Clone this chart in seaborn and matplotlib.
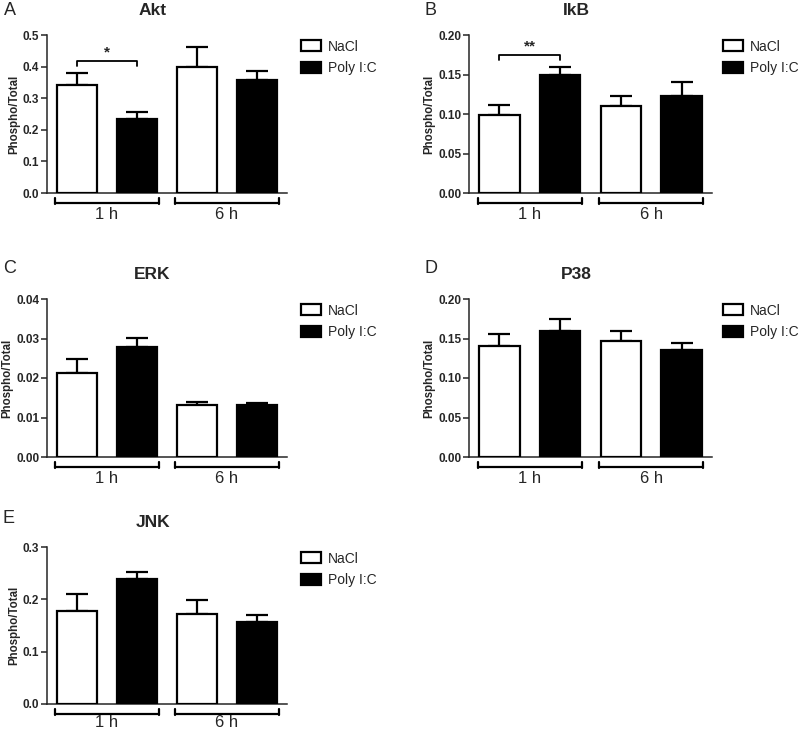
import numpy as np
import pandas as pd
import matplotlib
matplotlib.use('Agg')
import matplotlib.pyplot as plt
import seaborn as sns

# data (mean, upper SEM) order: 1h NaCl, 1h Poly, 6h NaCl, 6h Poly
times = ['1 h', '6 h']
treatments = ['NaCl', 'Poly I:C']

akt_mean = [0.341, 0.234, 0.399, 0.359]
akt_sem = [0.040, 0.021, 0.062, 0.028]
ikb_mean = [0.099, 0.149, 0.110, 0.123]
ikb_sem = [0.012, 0.010, 0.013, 0.018]
erk_mean = [0.0212, 0.0278, 0.0131, 0.0131]
erk_sem = [0.0036, 0.0023, 0.0008, 0.0005]
p38_mean = [0.141, 0.160, 0.147, 0.136]
p38_sem = [0.015, 0.015, 0.013, 0.008]
jnk_mean = [0.177, 0.239, 0.172, 0.156]
jnk_sem = [0.034, 0.014, 0.026, 0.014]

panels = [
    # letter, title, mean, sem, yticks, fmt, sig
    ('A', 'Akt', akt_mean, akt_sem, [0, 0.1, 0.2, 0.3, 0.4, 0.5], '%.1f', ('*', 0.419, 0.016)),
    ('B', 'IkB', ikb_mean, ikb_sem, [0, 0.05, 0.10, 0.15, 0.20], '%.2f', ('**', 0.175, 0.007)),
    ('C', 'ERK', erk_mean, erk_sem, [0, 0.01, 0.02, 0.03, 0.04], '%.2f', None),
    ('D', 'P38', p38_mean, p38_sem, [0, 0.05, 0.10, 0.15, 0.20], '%.2f', None),
    ('E', 'JNK', jnk_mean, jnk_sem, [0, 0.1, 0.2, 0.3], '%.1f', None),
]

sns.set_style('ticks')
plt.rcParams['font.family'] = ['Liberation Sans', 'DejaVu Sans']

W, H = 800, 730
fig = plt.figure(figsize=(8, 7.3), dpi=100)

# axes boxes in pixels: left, top, right, bottom
boxes = [(47, 35, 287, 193), (469, 35, 712, 193),
         (47, 299, 287, 457), (469, 299, 712, 457),
         (47, 547, 287, 704)]
letter_pos = [(4, 15), (424, 15), (3, 273), (424, 273), (3, 523)]

for (letter, title, mean, sem, yticks, fmt, sig), box, lp in zip(panels, boxes, letter_pos):
    l, t, r, b = box
    ax = fig.add_axes([l / W, 1 - b / H, (r - l) / W, (b - t) / H])
    df = pd.DataFrame({
        'time': np.repeat(times, 2),
        'treat': treatments * 2,
        'value': mean,
        'sem': sem,
    })
    sns.barplot(data=df, x='time', y='value', hue='treat', hue_order=treatments,
                palette={'NaCl': 'white', 'Poly I:C': 'black'}, edgecolor='black',
                linewidth=1.6, width=1.0, gap=0.33, errorbar=None, ax=ax, zorder=3)
    bar_conts = list(ax.containers)

    # upper error bars only, like GraphPad
    for ci, cont in enumerate(bar_conts):
        sub = df[df['treat'] == treatments[ci]]
        for bar, s in zip(cont, sub['sem']):
            xc = bar.get_x() + bar.get_width() / 2
            ax.errorbar(xc, bar.get_height(), yerr=[[0], [s]], fmt='none',
                        ecolor='black', elinewidth=1.6, capsize=8, capthick=1.6, zorder=2)

    ax.set_xlim(-0.5, 1.5)
    ax.set_ylim(0, yticks[-1])
    ax.set_yticks(yticks)
    ax.yaxis.set_major_formatter(matplotlib.ticker.FormatStrFormatter(fmt))
    ax.set_xticks([])
    ax.set_xlabel('')
    ax.set_ylabel('Phospho/Total', fontsize=8.3, fontweight='bold', labelpad=2)
    for lab in ax.get_yticklabels():
        lab.set_fontweight('bold')
    ax.tick_params(axis='y', labelsize=8.5, width=1.1, length=4, pad=1.5)
    sns.despine(ax=ax)
    ax.spines['left'].set_linewidth(1.1)
    ax.spines['bottom'].set_linewidth(1.1)

    # group brackets under the axis
    tr = ax.get_xaxis_transform()
    lab_y = -0.118 if letter == 'E' else -0.135
    for i, tm in enumerate(times):
        x0, x1 = i - 0.43, i + 0.43
        ax.plot([x0, x1], [-0.062, -0.062], color='black', lw=1.6, transform=tr, clip_on=False)
        for xe in (x0, x1):
            ax.plot([xe, xe], [-0.03, -0.068], color='black', lw=1.6, transform=tr, clip_on=False)
        ax.text(i, lab_y, tm, transform=tr, ha='center', va='center', fontsize=12)

    # significance bracket
    if sig is not None:
        mark, yb, dy = sig
        c0 = bar_conts[0][0]
        c1 = bar_conts[1][0]
        xa = c0.get_x() + c0.get_width() / 2
        xb = c1.get_x() + c1.get_width() / 2
        ax.plot([xa, xa, xb, xb], [yb - dy, yb, yb, yb - dy], color='black', lw=1.3, zorder=4)
        ax.text((xa + xb) / 2, yb + dy * 0.25, mark, ha='center', va='bottom',
                fontsize=11, fontweight='bold')

    ax.text(0.44, 1.125, title, transform=ax.transAxes, ha='center', va='baseline',
            fontsize=12.5, fontweight='bold')
    fig.text(lp[0] / W, 1 - lp[1] / H, letter, ha='left', va='baseline', fontsize=13)

    # right column legends sit against the figure edge, pull them in a touch
    leg_x = 1.045 if l > 400 else 1.058
    ax.legend(loc='upper left', bbox_to_anchor=(leg_x, 0.97), frameon=False,
              fontsize=10, borderpad=0, borderaxespad=0, handlelength=1.45,
              handleheight=0.85, labelspacing=0.55, handletextpad=0.5)

fig.savefig('out.png', dpi=100)
